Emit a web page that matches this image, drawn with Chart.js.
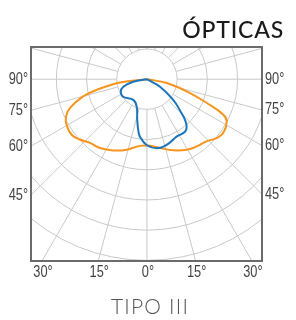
<!DOCTYPE html>
<html><head><meta charset="utf-8">
<script src="https://cdn.jsdelivr.net/npm/chart.js@4/dist/chart.umd.min.js"></script>
<style>html,body{margin:0;padding:0;background:#fff}#wrap{width:296px;height:320px;position:relative}</style>
</head><body><div id="wrap"><canvas id="c"></canvas></div>
<script>
// Photometric data: angle from nadir (deg, + = right), intensity (ring step = 100)
const orangeAngles = [-90, -83, -78, -75, -69.5, -65.3, -60.5, -53.6, -48.1, -41.8, -34.3, -25.3, -16.1, -6, 2.6, 10.7, 20.3, 29.4, 36.5, 43.8, 49.8, 54.8, 62.1, 65.1, 68.3, 72.2, 79.1, 90];
const orangeValues = [0, 90, 170, 219, 272, 295, 306, 310, 299, 283, 276, 261, 243, 222, 221, 232, 251, 268, 277, 285, 302, 309, 299, 279, 213, 150, 67, 0];
const blueAngles = [-90, -79.7, -72.4, -64.6, -53.6, -33.4, -20.5, -13.4, -9.7, -6.9, -0.3, 8, 16.7, 27.3, 35.9, 39.9, 43, 45.5, 51.7, 60, 90];
const blueValues = [0, 46, 82, 96, 98, 82, 97, 139, 171, 192, 218, 231, 227, 214, 215, 205, 185, 161, 111, 50, 0];

const ringValues = [100, 200, 300, 400, 500, 600];
const spokeStep = 15;
const sideTickAngles = [90, 75, 60, 45];
const sideTickLabels = ['90°', '75°', '60°', '45°'];
const bottomTickAngles = [-30, -15, 0, 15, 30];
const bottomTickLabels = ['30°', '15°', '0°', '15°', '30°'];
const titleText = 'ÓPTICAS';
const captionText = 'TIPO III';

function toXY(angles, values) {
  return angles.map((a, i) => {
    const t = a * Math.PI / 180;
    return { x: values[i] * Math.sin(t), y: -values[i] * Math.cos(t) };
  });
}

const tickFont = "16px 'Liberation Sans', Arial, sans-serif";
const narrow = 0.8;

function narrowText(ctx, text, px, py, align) {
  ctx.save();
  ctx.translate(px, py);
  ctx.scale(narrow, 1);
  ctx.textAlign = align;
  ctx.fillText(text, 0, 0);
  ctx.restore();
}

const polarGrid = {
  id: 'polarGrid',
  beforeDatasetsDraw(chart) {
    const { ctx, chartArea: ca, scales: { x, y } } = chart;
    const cx = x.getPixelForValue(0), cy = y.getPixelForValue(0);
    const unit = x.getPixelForValue(1) - cx;
    ctx.save();
    ctx.beginPath();
    ctx.rect(ca.left, ca.top, ca.right - ca.left, ca.bottom - ca.top);
    ctx.clip();
    ctx.strokeStyle = '#c9c9c9';
    ctx.lineWidth = 1;
    ringValues.forEach(v => {
      ctx.beginPath();
      ctx.arc(cx, cy, v * unit, 0, Math.PI * 2);
      ctx.stroke();
    });
    const r0 = ringValues[0] * unit, r1 = 2000 * unit;
    for (let a = 0; a < 360; a += spokeStep) {
      const t = a * Math.PI / 180;
      const sx = Math.sin(t), sy = Math.cos(t);
      ctx.beginPath();
      ctx.moveTo(cx + sx * r0, cy + sy * r0);
      ctx.lineTo(cx + sx * r1, cy + sy * r1);
      ctx.stroke();
    }
    ctx.restore();
  },
  afterDraw(chart) {
    const { ctx, chartArea: ca, scales: { x, y } } = chart;
    ctx.save();
    ctx.strokeStyle = '#6b6b6b';
    ctx.lineWidth = 2;
    ctx.strokeRect(ca.left, ca.top, ca.right - ca.left, ca.bottom - ca.top);
    ctx.fillStyle = '#444';
    ctx.font = tickFont;
    ctx.textBaseline = 'middle';
    sideTickAngles.forEach((a, i) => {
      const t = a * Math.PI / 180;
      const yl = y.getPixelForValue(x.min * Math.cos(t) / Math.sin(t));
      const yr = y.getPixelForValue(-x.max * Math.cos(t) / Math.sin(t));
      narrowText(ctx, sideTickLabels[i], ca.left - 3, yl, 'right');
      narrowText(ctx, sideTickLabels[i], ca.right + 3, yr, 'left');
    });
    bottomTickAngles.forEach((a, i) => {
      const t = a * Math.PI / 180;
      const xv = -y.min * Math.tan(t);
      narrowText(ctx, bottomTickLabels[i], x.getPixelForValue(xv) + 1, ca.bottom + 12, 'center');
    });
    ctx.fillStyle = '#1a1a1a';
    ctx.font = "500 23px Lato, 'Open Sans', sans-serif";
    ctx.letterSpacing = '0.8px';
    ctx.textAlign = 'right';
    ctx.textBaseline = 'alphabetic';
    ctx.fillText(titleText, 284, 38);
    ctx.fillStyle = '#555';
    ctx.font = "300 21px Lato, 'Open Sans', sans-serif";
    ctx.letterSpacing = '1.2px';
    ctx.textAlign = 'center';
    ctx.fillText(captionText, 150, 313.5);
    ctx.restore();
  }
};

new Chart(document.getElementById('c'), {
  type: 'scatter',
  data: {
    datasets: [
      { data: toXY(blueAngles, blueValues), borderColor: '#1b75bc', showLine: true, pointRadius: 0, borderWidth: 2, tension: 0.4, fill: false },
      { data: toXY(orangeAngles, orangeValues), borderColor: '#f7941d', showLine: true, pointRadius: 0, borderWidth: 2, tension: 0.4, fill: false }
    ]
  },
  options: {
    responsive: true,
    maintainAspectRatio: false,
    animation: false,
    layout: { padding: { left: 31, right: 34, top: 47, bottom: 59 } },
    plugins: { legend: { display: false }, tooltip: { enabled: false } },
    scales: {
      x: { type: 'linear', min: -384, max: 381, display: false },
      y: { type: 'linear', min: -602, max: 106.6, display: false }
    }
  },
  plugins: [polarGrid]
});
</script></body></html>
